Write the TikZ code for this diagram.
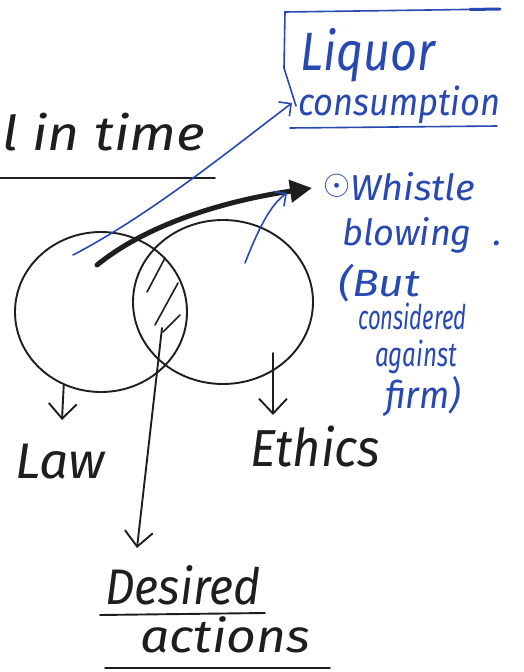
\documentclass[tikz,border=0pt]{standalone}
\usepackage{fontspec}
\setmainfont{Fira Sans}
\usetikzlibrary{arrows.meta,shapes.geometric}
\definecolor{ink}{RGB}{30,30,30}
\definecolor{blueink}{RGB}{40,72,178}
\tikzset{
  hand/.style={inner sep=0pt, anchor=base west, text=ink, font=\itshape},
  bhand/.style={inner sep=0pt, anchor=base west, text=blueink, font=\itshape},
  ring/.style={draw=ink, line width=1.9pt, ellipse, inner sep=0pt},
  pen/.style={draw=ink, line width=1.9pt, line cap=round},
  bpen/.style={draw=blueink, line width=1.6pt, line cap=round},
  barb/.style={-{Straight Barb[length=15pt,width=28pt,line width=1.9pt]}},
  bbarb/.style={-{Straight Barb[length=9pt,width=18pt,line width=1.6pt]}}
}
\newcommand{\fs}[1]{\fontsize{#1}{#1}\selectfont}
\newcommand{\hw}[2]{\resizebox{#1}{\height}{#2}}
\begin{document}
\begin{tikzpicture}[x=1pt,y=-1pt]
\useasboundingbox (0,0) rectangle (524,672);
\fill[white] (0,0) rectangle (524,672);

% top-left heading
\node[hand, font=\itshape\fs{48}] (time) at (2,150) {\hw{203pt}{l in time}};
\draw[pen] (0,178) -- (215,178);

% Liquor consumption with bracket
\node[bhand, font=\itshape\fs{54}] (liquor) at (300,70) {\hw{135pt}{Liquor}};
\node[bhand, font=\itshape\fs{38}] (consump) at (298,115) {\hw{202pt}{consumption}};
\draw[bpen] (500,9) -- (285,12) -- (284,68) -- (296,106);
\draw[blueink, line width=3pt, line cap=round] (470,9.5) -- (500,9);
\draw[bpen] (290,128) -- (497,126);

% Venn circles
\node[ring, minimum width=172pt, minimum height=160pt] (lawc) at (101,312) {};
\node[ring, minimum width=180pt, minimum height=164pt] (ethc) at (223,302) {};

% hatching in the intersection
\draw[pen, line width=1.6pt] (147,292) -- (165,258);
\draw[pen, line width=1.6pt] (155,325) -- (178,283);
\draw[pen, line width=1.6pt] (163,332) -- (180,315);

% arrows from the circles
\coordinate (bstart) at (97,265);
\coordinate (btip) at (312,188);
\draw[draw=ink, line width=5pt, line cap=round, -{Triangle[length=22pt,width=22pt]}]
  (bstart) .. controls (150,222) and (230,200) .. (btip);

\coordinate (l1start) at (73,255);
\coordinate (l1tip) at (292,103);
\draw[bpen, bbarb] (l1start) .. controls (150,215) and (230,150) .. (l1tip);

\coordinate (w1start) at (245,263);
\coordinate (w1tip) at (287,193);
\draw[bpen, bbarb] (w1start) .. controls (258,230) and (270,205) .. (w1tip);

% Whistle blowing text
\node[inner sep=0pt, text=blueink, font=\fs{30}] (dot) at (337,186) {\scalebox{1.4}{$\odot$}};
\node[bhand, font=\itshape\fs{36}] (whistle) at (350,200) {\hw{125pt}{Whistle}};
\node[bhand, font=\itshape\fs{36}] (blowing) at (342,245) {\hw{160pt}{blowing\hspace{0.6em}.}};
\node[bhand, font=\itshape\fs{38}] (but) at (338,296) {\hw{82pt}{(But}};
\node[bhand, font=\itshape\fs{34}] (consid) at (358,329) {\hw{108pt}{considered}};
\node[bhand, font=\itshape\fs{34}] (against) at (375,366) {\hw{82pt}{against}};
\node[bhand, font=\itshape\fs{38}] (firm) at (385,408) {\hw{76pt}{firm)}};

% labels below
\node[hand, font=\itshape\fs{50}] (law) at (15,478) {\hw{90pt}{Law}};
\node[hand, font=\itshape\fs{52}] (ethics) at (250,466) {\hw{130pt}{Ethics}};
\draw[pen, barb] (lawc.243) -- (62,420);
\coordinate (ethstart) at (273,353);
\draw[pen, barb] (ethstart) -- (273,415);

% desired actions
\coordinate (midstart) at (162,328);
\node[hand, font=\itshape\fs{50}] (desired) at (105,604) {\hw{155pt}{Desired}};
\node[hand, font=\itshape\fs{46}] (actions) at (140,652) {\hw{170pt}{actions}};
\draw[pen, barb] (midstart) -- (137,548);
\draw[pen] (100,615) -- (265,613);
\draw[pen] (105,668) -- (330,668);
\end{tikzpicture}
\end{document}
